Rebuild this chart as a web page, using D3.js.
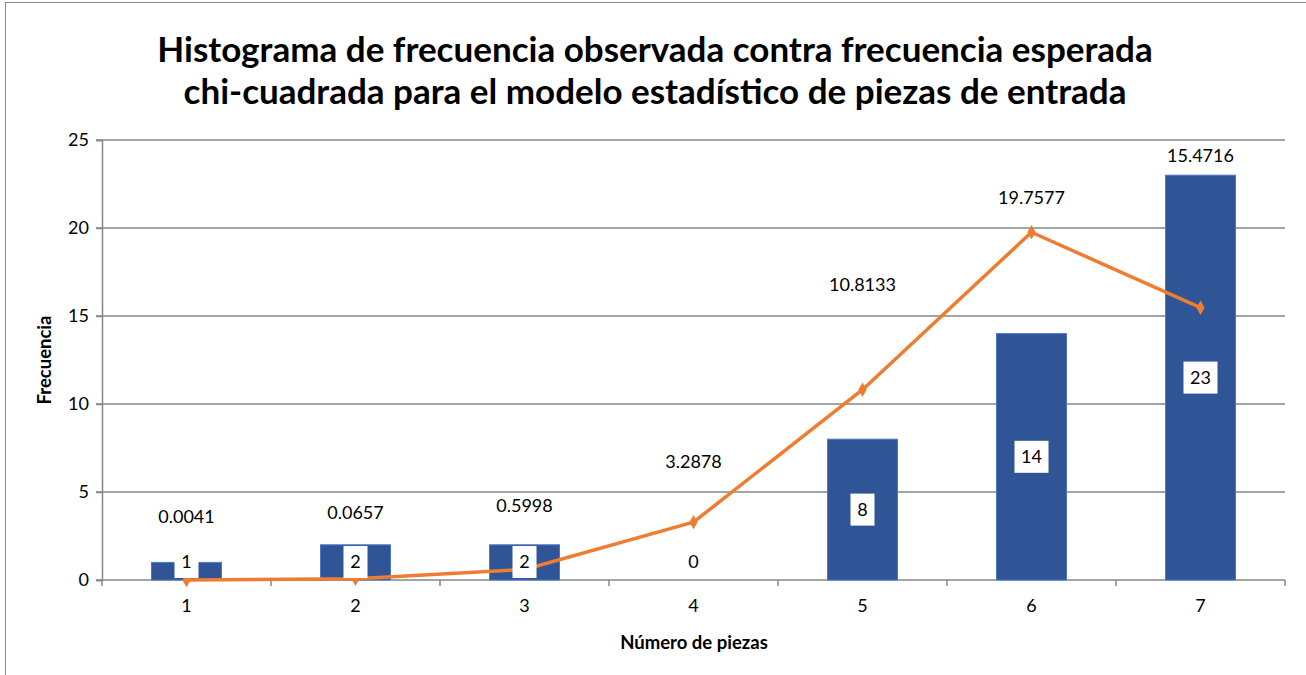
<!DOCTYPE html>
<html>
<head>
<meta charset="utf-8">
<script src="https://cdn.jsdelivr.net/npm/d3@7/dist/d3.min.js"></script>
<style>
  body { margin: 0; background: #fff; }
  text { font-family: Lato, "Open Sans", sans-serif; fill: #000; }
</style>
</head>
<body>
<script>
// chart data
const categories = [1, 2, 3, 4, 5, 6, 7];
const observed = [1, 2, 2, 0, 8, 14, 23];
const expected = [0.0041, 0.0657, 0.5998, 3.2878, 10.8133, 19.7577, 15.4716];
// where the expected-value labels sit, in data units (as in the source)
const expectedLabelAt = [3.6, 3.8, 4.2, 6.7, 16.8, 21.7, 24.1];
const yTicks = [0, 5, 10, 15, 20, 25];
const titleLines = [
  'Histograma de frecuencia observada contra frecuencia esperada',
  'chi-cuadrada para el modelo estadístico de piezas de entrada'
];

const width = 1306, height = 675;
const margin = { top: 140, right: 21, bottom: 95, left: 102 };

const svg = d3.select('body').append('svg')
  .attr('width', width)
  .attr('height', height);

// outer chart border
svg.append('rect')
  .attr('x', 5.5).attr('y', 2.5)
  .attr('width', width + 20).attr('height', height + 20)
  .attr('fill', 'none')
  .attr('stroke', '#888').attr('stroke-width', 1);

const x = d3.scaleBand()
  .domain(categories)
  .range([margin.left, width - margin.right])
  .paddingInner(0.586)
  .paddingOuter(0.293);

const y = d3.scaleLinear()
  .domain([0, 25])
  .range([height - margin.bottom, margin.top]);

// title
svg.append('text')
  .attr('text-anchor', 'middle')
  .attr('font-size', 35)
  .attr('font-weight', 'bold')
  .selectAll('tspan')
  .data(titleLines)
  .enter().append('tspan')
  .attr('x', 655)
  .attr('y', (d, i) => 62 + i * 42)
  .text(d => d);

// gridlines
svg.append('g')
  .selectAll('line')
  .data(yTicks.filter(t => t > 0))
  .enter().append('line')
  .attr('x1', margin.left - 6)
  .attr('x2', width - margin.right)
  .attr('y1', d => y(d)).attr('y2', d => y(d))
  .attr('stroke', '#878787')
  .attr('stroke-width', 1.5);

// y axis
const yAxis = svg.append('g')
  .attr('transform', `translate(${margin.left},0)`)
  .call(d3.axisLeft(y).tickValues(yTicks).tickSize(6).tickPadding(7));
yAxis.selectAll('line, path').attr('stroke', '#878787').attr('stroke-width', 1.5);
yAxis.selectAll('text').attr('font-size', 18).attr('font-family', 'Lato');

// x axis with ticks between categories
const step = x.step();
const xAxisG = svg.append('g')
  .attr('transform', `translate(0,${y(0)})`);
xAxisG.append('line')
  .attr('x1', margin.left - 6).attr('x2', width - margin.right)
  .attr('stroke', '#878787').attr('stroke-width', 1.5);
xAxisG.selectAll('.tick')
  .data(d3.range(categories.length + 1))
  .enter().append('line')
  .attr('x1', i => margin.left + i * step).attr('x2', i => margin.left + i * step)
  .attr('y1', 0).attr('y2', 6)
  .attr('stroke', '#878787').attr('stroke-width', 1.5);
xAxisG.selectAll('text')
  .data(categories)
  .enter().append('text')
  .attr('x', d => x(d) + x.bandwidth() / 2)
  .attr('y', 32)
  .attr('text-anchor', 'middle')
  .attr('font-size', 18)
  .text(d => d);

// observed bars
svg.append('g')
  .selectAll('rect')
  .data(categories)
  .enter().append('rect')
  .attr('x', (d, i) => x(d))
  .attr('y', (d, i) => y(observed[i]))
  .attr('width', x.bandwidth())
  .attr('height', (d, i) => y(0) - y(observed[i]))
  .attr('fill', '#2F5597')
  .attr('stroke', '#4A78C8')
  .attr('stroke-width', 1);

// expected line
const line = d3.line()
  .x((d, i) => x(categories[i]) + x.bandwidth() / 2)
  .y(d => y(d));

svg.append('path')
  .datum(expected)
  .attr('d', line)
  .attr('fill', 'none')
  .attr('stroke', '#ED7D31')
  .attr('stroke-width', 3.5)
  .attr('stroke-linejoin', 'round');

svg.append('g')
  .selectAll('path')
  .data(expected)
  .enter().append('path')
  .attr('d', d3.symbol().type(d3.symbolDiamond).size(60))
  .attr('transform', (d, i) => `translate(${x(categories[i]) + x.bandwidth() / 2},${y(d)})`)
  .attr('fill', '#ED7D31');

// observed labels (white boxes centred in bars)
const obsLabels = svg.append('g')
  .selectAll('g')
  .data(categories)
  .enter().append('g')
  .attr('transform', (d, i) => {
    const cx = x(d) + x.bandwidth() / 2;
    const cy = Math.min((y(0) + y(observed[i])) / 2, y(0) - 18);
    return `translate(${cx},${cy})`;
  });
obsLabels.append('rect')
  .attr('x', (d, i) => String(observed[i]).length > 1 ? -17 : -12)
  .attr('y', -16)
  .attr('width', (d, i) => String(observed[i]).length > 1 ? 34 : 24)
  .attr('height', 32)
  .attr('fill', '#fff');
obsLabels.append('text')
  .attr('text-anchor', 'middle')
  .attr('dy', '0.35em')
  .attr('font-size', 18)
  .text((d, i) => observed[i]);

// expected labels
svg.append('g')
  .selectAll('text')
  .data(expected)
  .enter().append('text')
  .attr('x', (d, i) => x(categories[i]) + x.bandwidth() / 2)
  .attr('y', (d, i) => y(expectedLabelAt[i]))
  .attr('dy', '0.35em')
  .attr('text-anchor', 'middle')
  .attr('font-size', 18)
  .text(d => d);

// axis titles
svg.append('text')
  .attr('transform', `translate(51,${(y(0) + y(25)) / 2}) rotate(-90)`)
  .attr('text-anchor', 'middle')
  .attr('font-size', 18.5)
  .attr('font-weight', 'bold')
  .text('Frecuencia');

svg.append('text')
  .attr('x', 694).attr('y', 649)
  .attr('text-anchor', 'middle')
  .attr('font-size', 18.5)
  .attr('font-weight', 'bold')
  .text('Número de piezas');
</script>
</body>
</html>
